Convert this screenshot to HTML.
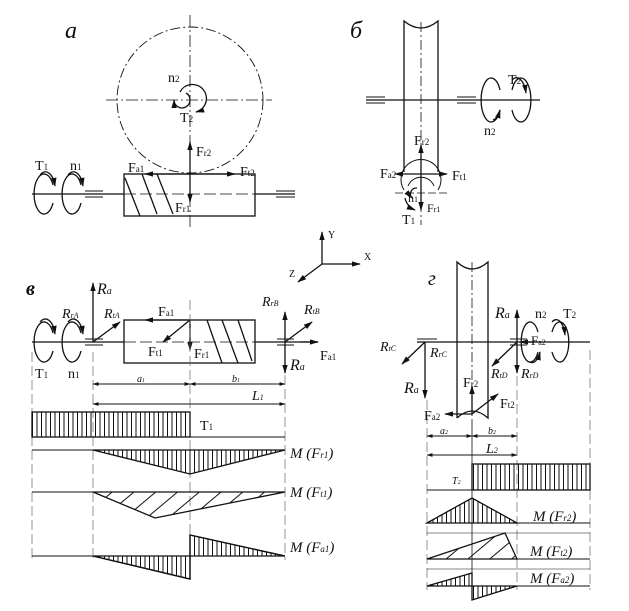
<!DOCTYPE html>
<html><head><meta charset="utf-8"><style>
body{margin:0;background:#fff}
svg{display:block}
text{font-family:"Liberation Serif",serif;fill:#111}
.i{font-style:italic}
</style></head><body>
<svg width="629" height="611" viewBox="0 0 629 611" xmlns="http://www.w3.org/2000/svg">
<defs>
<marker id="ar" viewBox="0 0 10 10" refX="9" refY="5" markerWidth="7" markerHeight="7" orient="auto-start-reverse"><path d="M0,2 L10,5 L0,8z" fill="#111"/></marker>
<pattern id="vh" width="4.5" height="10" patternUnits="userSpaceOnUse"><line x1="1" y1="0" x2="1" y2="10" stroke="#111" stroke-width="1"/></pattern>
<pattern id="dh" width="14" height="14" patternUnits="userSpaceOnUse" patternTransform="rotate(-40)"><line x1="0" y1="1" x2="14" y2="1" stroke="#111" stroke-width="1"/></pattern>
</defs>
<g stroke="#111" fill="none" stroke-width="1.3">
<!-- PANEL a -->
<circle cx="190" cy="100" r="73" stroke-dasharray="10,3,2,3" stroke-width="0.9"/>
<line x1="190" y1="15" x2="190" y2="230" stroke-dasharray="12,3,2,3" stroke-width="0.8"/>
<line x1="106" y1="100" x2="272" y2="100" stroke-dasharray="12,3,2,3" stroke-width="0.8"/>
<path d="M180,92 A14,14 0 1,1 196,112" marker-end="url(#ar)"/>
<path d="M186,93 A8,8 0 1,1 174,100" marker-end="url(#ar)"/>
<line x1="32" y1="194" x2="124" y2="194"/><line x1="255" y1="194" x2="295" y2="194"/>
<line x1="124" y1="194" x2="255" y2="194" stroke-dasharray="12,4" stroke-width="0.8"/>
<rect x="124" y="174" width="131" height="42"/>
<path d="M125,178 L140,216 M142,174 L157,214 M157,174 L173,214"/>
<path d="M85,191H103M85,194H103M85,197H103M276,191H295M276,194H295M276,197H295" stroke-width="1"/>
<path d="M53,185 A10,20 0 1,0 53,203" /><path d="M40,175 A10,20 0 0,1 55,186" marker-end="url(#ar)"/>
<path d="M81,185 A10,20 0 1,0 81,203"/><path d="M68,175 A10,20 0 0,1 83,186" marker-end="url(#ar)"/>
<line x1="190" y1="174" x2="190" y2="142" marker-end="url(#ar)"/>
<line x1="190" y1="174" x2="145" y2="174" marker-end="url(#ar)"/>
<line x1="190" y1="174" x2="235" y2="174" marker-end="url(#ar)"/>
<line x1="190" y1="174" x2="190" y2="202" marker-end="url(#ar)"/>
<!-- PANEL b -->
<path d="M404,172 V21 Q421,35 438,21 V172"/>
<line x1="421" y1="22" x2="421" y2="225" stroke-dasharray="10,3,2,3" stroke-width="0.8"/>
<line x1="366" y1="100" x2="540" y2="100"/>
<path d="M366,97H385M366,100H385M366,103H385M457,97H476M457,103H476" stroke-width="1"/>
<path d="M500,90 A10,22 0 1,0 500,110"/><path d="M493,120 A10,22 0 0,0 500,110" marker-end="url(#ar)"/>
<path d="M512,90 A10,22 0 1,1 512,110"/><path d="M512,80 A10,22 0 0,1 526,93" marker-end="url(#ar)"/>
<line x1="421" y1="174" x2="421" y2="145" marker-end="url(#ar)"/>
<line x1="421" y1="174" x2="395" y2="174" marker-end="url(#ar)"/>
<line x1="421" y1="174" x2="447" y2="174" marker-end="url(#ar)"/>
<line x1="421" y1="174" x2="421" y2="210" marker-end="url(#ar)"/>
<line x1="395" y1="193" x2="447" y2="193" stroke-dasharray="8,3" stroke-width="0.8"/>
<path d="M404,190 A20,20 0 1,1 438,190" stroke-width="1"/>
<path d="M408,186 A14,14 0 0,1 434,186" stroke-width="1"/>
<path d="M405,198 A17,17 0 0,0 415,210" marker-end="url(#ar)"/>
<path d="M417,188 A6,6 0 0,0 412,198" marker-end="url(#ar)"/>
<!-- axes -->
<line x1="322" y1="264" x2="322" y2="232" marker-end="url(#ar)"/>
<line x1="322" y1="264" x2="360" y2="264" marker-end="url(#ar)"/>
<line x1="322" y1="264" x2="298" y2="282" marker-end="url(#ar)"/>
<!-- PANEL v -->
<line x1="32" y1="342" x2="124" y2="342"/><line x1="255" y1="342" x2="318" y2="342"/>
<line x1="124" y1="342" x2="255" y2="342" stroke-dasharray="12,4" stroke-width="0.8"/>
<rect x="124" y="320" width="131" height="43"/>
<path d="M207,320 L222,363 M222,320 L238,363 M238,320 L252,361"/>
<path d="M85,339H103M85,345H103M277,339H294M277,345H294" stroke-width="1"/>
<path d="M53,333 A10,20 0 1,0 53,351"/><path d="M40,322 A10,20 0 0,1 55,334" marker-end="url(#ar)"/>
<path d="M81,333 A10,20 0 1,0 81,351"/><path d="M68,322 A10,20 0 0,1 83,334" marker-end="url(#ar)"/>
<line x1="93" y1="342" x2="93" y2="283" marker-end="url(#ar)"/>
<line x1="93" y1="342" x2="120" y2="322" marker-end="url(#ar)"/>
<line x1="190" y1="320" x2="145" y2="320" marker-end="url(#ar)"/>
<line x1="190" y1="320" x2="163" y2="342" marker-end="url(#ar)"/>
<line x1="190" y1="320" x2="190" y2="350" marker-end="url(#ar)"/>
<line x1="285" y1="342" x2="285" y2="312" marker-end="url(#ar)"/>
<line x1="285" y1="342" x2="312" y2="322" marker-end="url(#ar)"/>
<line x1="285" y1="342" x2="285" y2="373" marker-end="url(#ar)"/>
<line x1="300" y1="342" x2="318" y2="342" marker-end="url(#ar)"/>
<g stroke-dasharray="10,4" stroke-width="0.7" stroke="#666">
<line x1="32" y1="352" x2="32" y2="560"/><line x1="93" y1="352" x2="93" y2="560"/><line x1="190" y1="300" x2="190" y2="580"/><line x1="285" y1="375" x2="285" y2="560"/>
</g>
<line x1="93" y1="384" x2="190" y2="384" marker-start="url(#ar)" marker-end="url(#ar)" stroke-width="0.9"/>
<line x1="190" y1="384" x2="285" y2="384" marker-start="url(#ar)" marker-end="url(#ar)" stroke-width="0.9"/>
<line x1="93" y1="404" x2="285" y2="404" marker-start="url(#ar)" marker-end="url(#ar)" stroke-width="0.9"/>
<rect x="32" y="412" width="158" height="25" fill="url(#vh)"/>
<line x1="190" y1="437" x2="285" y2="437" stroke-width="0.9"/>
<line x1="32" y1="450" x2="285" y2="450" stroke-width="0.9"/>
<path d="M93,450 L190,474 L285,450Z" fill="url(#vh)"/>
<line x1="32" y1="492" x2="285" y2="492" stroke-width="0.9"/>
<path d="M93,492 L155,518 L285,492Z" fill="url(#dh)"/>
<line x1="32" y1="556" x2="285" y2="556" stroke-width="0.9"/>
<path d="M93,556 L190,579 L190,535 L285,556" fill="none"/>
<path d="M93,556 L190,579 L190,556Z" fill="url(#vh)"/>
<path d="M190,535 L285,556 L190,556Z" fill="url(#vh)"/>
<!-- PANEL g -->
<path d="M457,418 V262 Q472,276 488,262 V418 Q472,404 457,418"/>
<line x1="472" y1="262" x2="472" y2="420" stroke-dasharray="10,3,2,3" stroke-width="0.8"/>
<line x1="417" y1="342" x2="590" y2="342"/>
<path d="M417,339H437M417,342H437M510,339H527M510,345H527" stroke-width="1"/>
<path d="M538,332 A9,20 0 1,0 538,352"/><path d="M530,362 A9,20 0 0,0 540,352" marker-end="url(#ar)"/>
<path d="M552,332 A9,20 0 1,1 552,352"/><path d="M552,322 A9,20 0 0,1 565,335" marker-end="url(#ar)"/>
<line x1="517" y1="342" x2="517" y2="310" marker-end="url(#ar)"/>
<line x1="535" y1="342" x2="520" y2="342" marker-end="url(#ar)"/>
<line x1="517" y1="342" x2="492" y2="366" marker-end="url(#ar)"/>
<line x1="517" y1="342" x2="517" y2="373" marker-end="url(#ar)"/>
<line x1="425" y1="342" x2="402" y2="364" marker-end="url(#ar)"/>
<line x1="425" y1="342" x2="425" y2="398" marker-end="url(#ar)"/>
<line x1="472" y1="414" x2="472" y2="386" marker-end="url(#ar)"/>
<line x1="472" y1="414" x2="445" y2="414" marker-end="url(#ar)"/>
<line x1="472" y1="414" x2="498" y2="394" marker-end="url(#ar)"/>
<g stroke-dasharray="10,4" stroke-width="0.7" stroke="#666">
<line x1="427" y1="400" x2="427" y2="590"/><line x1="517" y1="376" x2="517" y2="590"/><line x1="590" y1="350" x2="590" y2="590"/>
</g>
<line x1="472" y1="420" x2="472" y2="600" stroke-width="0.8"/>
<line x1="427" y1="436" x2="472" y2="436" marker-start="url(#ar)" marker-end="url(#ar)" stroke-width="0.9"/>
<line x1="472" y1="436" x2="517" y2="436" marker-start="url(#ar)" marker-end="url(#ar)" stroke-width="0.9"/>
<line x1="427" y1="455" x2="517" y2="455" marker-start="url(#ar)" marker-end="url(#ar)" stroke-width="0.9"/>
<rect x="472" y="464" width="118" height="26" fill="url(#vh)"/>
<line x1="427" y1="490" x2="472" y2="490" stroke-width="0.9"/>
<line x1="427" y1="523" x2="590" y2="523" stroke-width="0.9"/>
<path d="M427,523 L472,498 L517,523Z" fill="url(#vh)"/>
<line x1="427" y1="533" x2="590" y2="533" stroke-width="0.6"/>
<line x1="427" y1="559" x2="590" y2="559" stroke-width="0.9"/>
<path d="M427,559 L505,533 L517,559Z" fill="url(#dh)"/>
<line x1="427" y1="569" x2="590" y2="569" stroke-width="0.6"/>
<line x1="427" y1="586" x2="590" y2="586" stroke-width="0.9"/>
<path d="M427,586 L472,573 L472,586Z" fill="url(#vh)"/>
<path d="M472,586 L472,600 L517,586Z" fill="url(#vh)"/>
</g>
<!-- labels -->
<text x="65" y="38" font-size="24" class="i">a</text>
<text x="350" y="38" font-size="24" class="i">б</text>
<text x="26" y="295" font-size="20" class="i" font-weight="bold">в</text>
<text x="428" y="285" font-size="20" class="i">г</text>
<g font-size="14">
<text x="35" y="170">T<tspan font-size="9">1</tspan></text>
<text x="70" y="170">n<tspan font-size="9">1</tspan></text>
<text x="168" y="82">n<tspan font-size="9">2</tspan></text>
<text x="180" y="122">T<tspan font-size="9">2</tspan></text>
<text x="196" y="156">F<tspan font-size="9">r2</tspan></text>
<text x="128" y="172">F<tspan font-size="9">a1</tspan></text>
<text x="240" y="176">F<tspan font-size="9">t2</tspan></text>
<text x="175" y="212">F<tspan font-size="9">r1</tspan></text>
<text x="508" y="84">T<tspan font-size="9">2</tspan></text>
<text x="484" y="135">n<tspan font-size="9">2</tspan></text>
<text x="414" y="145">F<tspan font-size="9">r2</tspan></text>
<text x="380" y="178">F<tspan font-size="9">a2</tspan></text>
<text x="452" y="180">F<tspan font-size="9">t1</tspan></text>
<text x="408" y="202" font-size="12">n<tspan font-size="8">1</tspan></text>
<text x="427" y="212" font-size="12">F<tspan font-size="8">r1</tspan></text>
<text x="402" y="224">T<tspan font-size="9">1</tspan></text>
<text x="328" y="238" font-size="10">Y</text>
<text x="364" y="260" font-size="10">X</text>
<text x="289" y="277" font-size="10">Z</text>
<text x="97" y="294" class="i" font-size="16">R<tspan font-size="10">a</tspan></text>
<text x="62" y="318" class="i">R<tspan font-size="8">rA</tspan></text>
<text x="104" y="318" class="i">R<tspan font-size="8">tA</tspan></text>
<text x="158" y="316">F<tspan font-size="9">a1</tspan></text>
<text x="148" y="356">F<tspan font-size="9">t1</tspan></text>
<text x="194" y="358">F<tspan font-size="9">r1</tspan></text>
<text x="262" y="306" class="i">R<tspan font-size="8">rB</tspan></text>
<text x="304" y="314" class="i">R<tspan font-size="8">tB</tspan></text>
<text x="290" y="370" class="i" font-size="16">R<tspan font-size="10">a</tspan></text>
<text x="320" y="360">F<tspan font-size="9">a1</tspan></text>
<text x="35" y="378">T<tspan font-size="9">1</tspan></text>
<text x="68" y="378">n<tspan font-size="9">1</tspan></text>
<text x="137" y="382" class="i" font-size="10">a<tspan font-size="6">1</tspan></text>
<text x="232" y="382" class="i" font-size="10">b<tspan font-size="6">1</tspan></text>
<text x="252" y="400" class="i">L<tspan font-size="8">1</tspan></text>
<text x="200" y="430">T<tspan font-size="9">1</tspan></text>
<text x="290" y="458" class="i" font-size="15">M (F<tspan font-size="9">r1</tspan>)</text>
<text x="290" y="497" class="i" font-size="15">M (F<tspan font-size="9">t1</tspan>)</text>
<text x="290" y="552" class="i" font-size="15">M (F<tspan font-size="9">a1</tspan>)</text>
<text x="495" y="318" class="i" font-size="16">R<tspan font-size="10">a</tspan></text>
<text x="535" y="318">n<tspan font-size="9">2</tspan></text>
<text x="563" y="318">T<tspan font-size="9">2</tspan></text>
<text x="531" y="345" font-size="13">F<tspan font-size="8">a2</tspan></text>
<text x="380" y="351" class="i">R<tspan font-size="8">tC</tspan></text>
<text x="430" y="357" class="i">R<tspan font-size="8">rC</tspan></text>
<text x="491" y="378" class="i">R<tspan font-size="8">tD</tspan></text>
<text x="521" y="378" class="i">R<tspan font-size="8">rD</tspan></text>
<text x="404" y="393" class="i" font-size="16">R<tspan font-size="10">a</tspan></text>
<text x="463" y="387">F<tspan font-size="9">r2</tspan></text>
<text x="500" y="408">F<tspan font-size="9">t2</tspan></text>
<text x="424" y="420">F<tspan font-size="9">a2</tspan></text>
<text x="440" y="434" class="i" font-size="10">a<tspan font-size="6">2</tspan></text>
<text x="488" y="434" class="i" font-size="10">b<tspan font-size="6">2</tspan></text>
<text x="486" y="453" class="i">L<tspan font-size="8">2</tspan></text>
<text x="452" y="484" class="i" font-size="10">T<tspan font-size="6">2</tspan></text>
<text x="533" y="521" class="i" font-size="15">M (F<tspan font-size="9">r2</tspan>)</text>
<text x="530" y="556" class="i" font-size="15">M (F<tspan font-size="9">t2</tspan>)</text>
<text x="530" y="583" class="i" font-size="15">M (F<tspan font-size="9">a2</tspan>)</text>
</g>
</svg>
</body></html>
